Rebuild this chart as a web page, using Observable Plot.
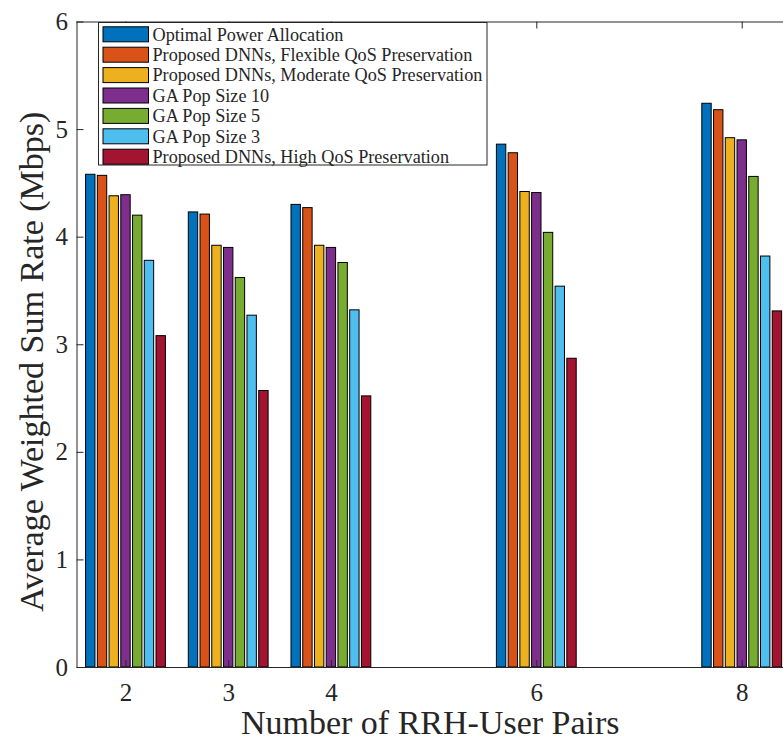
<!DOCTYPE html>
<html>
<head>
<meta charset="utf-8">
<script src="https://cdn.jsdelivr.net/npm/d3@7"></script>
<script src="https://cdn.jsdelivr.net/npm/@observablehq/plot@0.6"></script>
<style>
  html, body { margin: 0; padding: 0; background: #fff; }
  #chart svg { display: block; }
</style>
</head>
<body>
<div id="chart"></div>
<script>
// ---------- data ----------
const pairs = [2, 3, 4, 6, 8];
const seriesNames = [
  "Optimal Power Allocation",
  "Proposed DNNs, Flexible QoS Preservation",
  "Proposed DNNs, Moderate QoS Preservation",
  "GA Pop Size 10",
  "GA Pop Size 5",
  "GA Pop Size 3",
  "Proposed DNNs, High QoS Preservation"
];
const seriesColors = ["#0072BD", "#D95319", "#EDB120", "#7E2F8E", "#77AC30", "#4DBEEE", "#A2142F"];
const optimalPA   = [4.58, 4.23, 4.30, 4.86, 5.24];
const dnnFlexible = [4.57, 4.21, 4.27, 4.78, 5.18];
const dnnModerate = [4.38, 3.92, 3.92, 4.42, 4.92];
const gaPop10     = [4.39, 3.90, 3.90, 4.41, 4.90];
const gaPop5      = [4.20, 3.62, 3.76, 4.04, 4.56];
const gaPop3      = [3.78, 3.27, 3.32, 3.54, 3.82];
const dnnHigh     = [3.08, 2.57, 2.52, 2.87, 3.31];
const yTicks = [0, 1, 2, 3, 4, 5, 6];
const xLabel = "Number of RRH-User Pairs";
const yLabel = "Average Weighted Sum Rate (Mbps)";

// ---------- build table ----------
const seriesValues = [optimalPA, dnnFlexible, dnnModerate, gaPop10, gaPop5, gaPop3, dnnHigh];
const nSeries = seriesNames.length;
const groupWidth = 0.8;                 // MATLAB grouped bar width
const slot = groupWidth / nSeries;
const barFrac = 0.8;
const rows = [];
seriesValues.forEach((vals, i) => {
  vals.forEach((v, j) => {
    const center = pairs[j] + (i - (nSeries - 1) / 2) * slot;
    rows.push({series: seriesNames[i], pair: pairs[j], value: v,
               x1: center - slot * barFrac / 2, x2: center + slot * barFrac / 2});
  });
});

const xDomain = [1.523, 8.402];
const axisColor = "#262626";
const font = "'Liberation Serif', 'Times New Roman', serif";

const svg = Plot.plot({
  width: 783,
  height: 744,
  marginLeft: 76.5,
  marginRight: 0,
  marginTop: 21.5,
  marginBottom: 77,
  style: {fontFamily: font, color: axisColor, background: "white"},
  x: {type: "linear", domain: xDomain, axis: null},
  y: {domain: [0, 6], axis: null},
  color: {domain: seriesNames, range: seriesColors},
  marks: [
    Plot.rectY(rows, {x1: "x1", x2: "x2", y1: 0, y2: "value", fill: "series",
                      stroke: "#000", strokeWidth: 1}),
    // axis box
    Plot.ruleY([0, 6], {stroke: axisColor, strokeWidth: 1}),
    Plot.ruleX([xDomain[0]], {stroke: axisColor, strokeWidth: 1}),
    // inward ticks
    Plot.ruleX(pairs, {x: d => d, y1: 0, y2: 0, insetTop: -7, stroke: axisColor}),
    Plot.ruleX(pairs, {x: d => d, y1: 6, y2: 6, insetBottom: -7, stroke: axisColor}),
    Plot.ruleY(yTicks, {y: d => d, x1: xDomain[0], x2: xDomain[0], insetRight: -7, stroke: axisColor}),
    // tick labels
    Plot.text(pairs, {x: d => d, frameAnchor: "bottom", dy: 25, lineAnchor: "middle",
                      text: d => String(d), fontSize: 25, fill: axisColor}),
    Plot.text(yTicks, {y: d => d, frameAnchor: "left", dx: -9, textAnchor: "end", lineAnchor: "middle",
                       text: d => String(d), fontSize: 25, fill: axisColor}),
    // axis titles
    Plot.text([xLabel], {frameAnchor: "bottom", dy: 56, lineAnchor: "middle", textAnchor: "middle",
                         text: d => d, fontSize: 34, fill: axisColor}),
    Plot.text([yLabel], {frameAnchor: "left", dx: -45, dy: 17, rotate: -90,
                         textAnchor: "middle", lineAnchor: "middle",
                         text: d => d, fontSize: 34, fill: axisColor})
  ]
});

// ---------- legend (inside the axes, top-left) ----------
const lg = d3.select(svg).append("g").attr("font-family", font).attr("text-anchor", "start");
const boxX = 98.5, boxY = 22.5, boxW = 388.5, boxH = 142.5;
lg.append("rect").attr("x", boxX).attr("y", boxY).attr("width", boxW).attr("height", boxH)
  .attr("fill", "white").attr("stroke", axisColor).attr("stroke-width", 1);
seriesNames.forEach((name, i) => {
  const cy = 34.3 + i * 20.4;
  lg.append("rect").attr("x", 103).attr("y", cy - 7.5).attr("width", 45.5).attr("height", 15)
    .attr("fill", seriesColors[i]).attr("stroke", "#000").attr("stroke-width", 1);
  lg.append("text").attr("x", 152.5).attr("y", cy).attr("dy", "0.35em")
    .attr("text-anchor", "start")
    .attr("font-size", 18.2).attr("fill", axisColor).text(name);
});

document.getElementById("chart").appendChild(svg);
</script>
</body>
</html>
